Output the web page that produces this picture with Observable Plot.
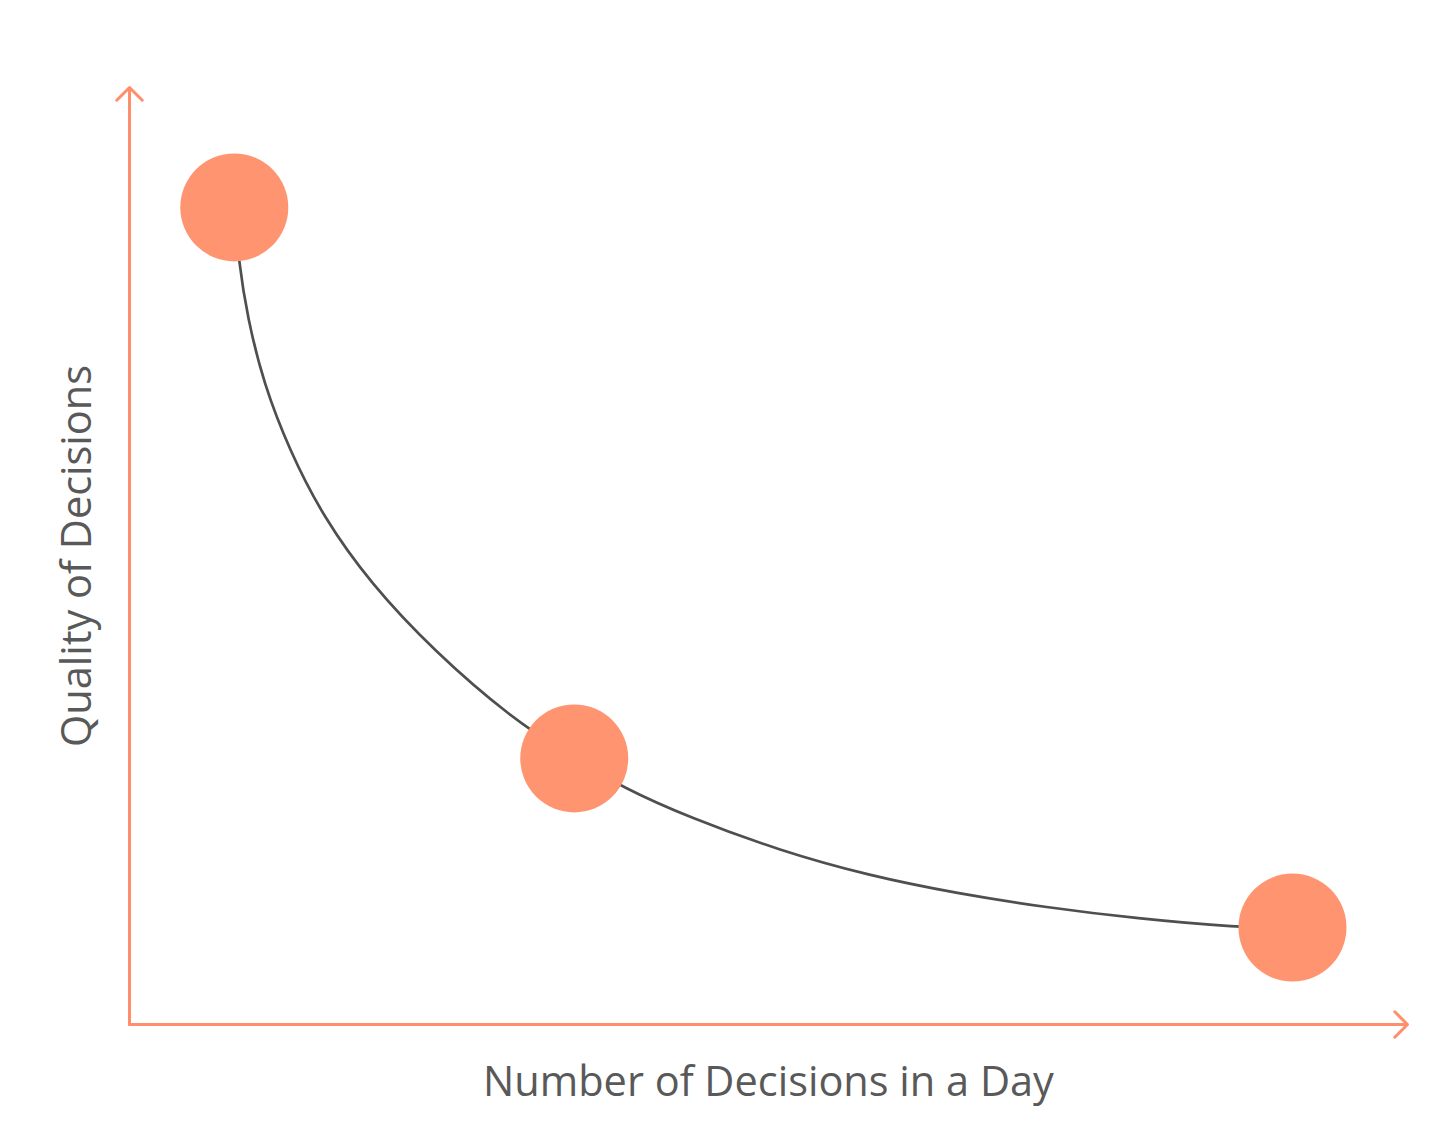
<!DOCTYPE html>
<html>
<head>
<meta charset="utf-8">
<script src="https://cdn.jsdelivr.net/npm/d3@7"></script>
<script src="https://cdn.jsdelivr.net/npm/@observablehq/plot@0.6"></script>
<style>
  html, body { margin: 0; padding: 0; background: #fff; }
  #chart svg { display: block; }
</style>
</head>
<body>
<div id="chart"></div>
<script>
// Highlighted points (x = number of decisions, y = quality)
const pointX = [8.2, 34.8, 91.0];
const pointY = [87.2, 28.4, 10.35];

// Points
const curveX = [8.22, 8.53, 9.23, 10.49, 12.52, 15.18, 18.86, 23.79, 29.81, 34.82, 38.58, 43.82, 50.86, 57.82, 64.79, 71.75, 78.79, 86.78, 91.0];
const curveY = [87.19, 81.54, 75.45, 68.41, 61.26, 54.11, 47.07, 39.91, 32.76, 28.39, 25.29, 22.09, 18.57, 15.90, 13.98, 12.49, 11.31, 10.35, 10.25];

const xLabel = "Number of Decisions in a Day";
const yLabel = "Quality of Decisions";

const points = pointX.map((x, i) => ({x, y: pointY[i]}));
const curve = curveX.map((x, i) => ({x, y: curveY[i]}));

const axisColor = "#FF8F6C";
const dotColor = "#FF9470";
const font = "'Open Sans', sans-serif";

const chart = Plot.plot({
  width: 1440,
  height: 1146,
  marginLeft: 129,
  marginRight: 33,
  marginTop: 87,
  marginBottom: 122,
  x: {domain: [0, 100], axis: null},
  y: {domain: [0, 100], axis: null},
  style: {fontFamily: font, background: "#fff"},
  marks: [
    Plot.arrow([{x1: 0, y1: 0, x2: 100, y2: 0}], {
      x1: "x1", y1: "y1", x2: "x2", y2: "y2",
      stroke: axisColor, strokeWidth: 3, headAngle: 90, headLength: 9, bend: 0
    }),
    Plot.arrow([{x1: 0, y1: 0, x2: 0, y2: 100}], {
      x1: "x1", y1: "y1", x2: "x2", y2: "y2",
      stroke: axisColor, strokeWidth: 3, headAngle: 90, headLength: 9, bend: 0
    }),
    Plot.line(curve, {x: "x", y: "y", stroke: "#4f4f4f", strokeWidth: 2.7, curve: "basis"}),
    Plot.dot(points, {x: "x", y: "y", r: 54, fill: dotColor, stroke: "none"}),
    Plot.text([xLabel], {
      text: d => d, frameAnchor: "bottom", dy: 58, lineAnchor: "middle",
      fontSize: 41.5, fill: "#595959", fontFamily: font
    }),
    Plot.text([yLabel], {
      text: d => d, frameAnchor: "left", dx: -52, rotate: -90, textAnchor: "middle", lineAnchor: "middle",
      fontSize: 41.5, fill: "#595959", fontFamily: font
    })
  ]
});
document.getElementById("chart").appendChild(chart);
</script>
</body>
</html>
